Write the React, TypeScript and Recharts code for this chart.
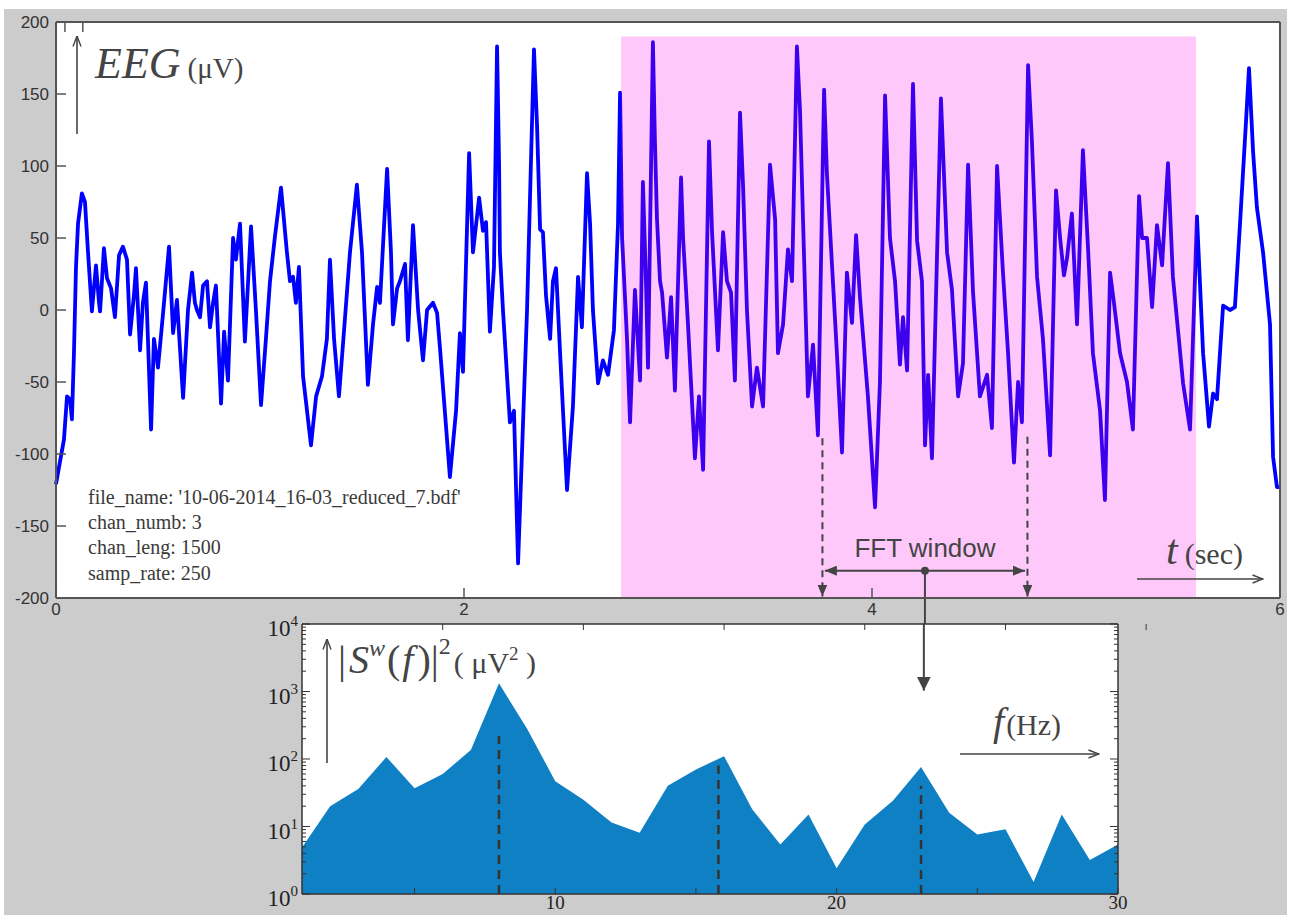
import React from "react";
import {
  Area,
  AreaChart,
  CartesianGrid,
  Line,
  LineChart,
  ReferenceArea,
  ReferenceDot,
  ReferenceLine,
  XAxis,
  YAxis,
} from "recharts";

// EEG trace (chan 3): time in s, amplitude in µV
const eegTime = [
  0.000, 0.020, 0.039, 0.054, 0.069, 0.078, 0.088, 0.098, 0.108, 0.127,
  0.142, 0.157, 0.176, 0.196, 0.211, 0.216, 0.235, 0.250, 0.270, 0.289,
  0.309, 0.328, 0.348, 0.363, 0.382, 0.392, 0.412, 0.426, 0.441, 0.466,
  0.480, 0.500, 0.525, 0.554, 0.574, 0.593, 0.623, 0.647, 0.667, 0.681,
  0.691, 0.706, 0.721, 0.740, 0.755, 0.770, 0.784, 0.809, 0.824, 0.843,
  0.868, 0.882, 0.902, 0.926, 0.956, 0.980, 1.005, 1.029, 1.049, 1.074,
  1.103, 1.132, 1.147, 1.162, 1.176, 1.191, 1.211, 1.250, 1.275, 1.304,
  1.328, 1.343, 1.363, 1.387, 1.417, 1.441, 1.475, 1.500, 1.529, 1.554,
  1.574, 1.588, 1.623, 1.642, 1.652, 1.672, 1.686, 1.711, 1.725, 1.750,
  1.775, 1.799, 1.819, 1.848, 1.868, 1.882, 1.931, 1.961, 1.980, 1.995,
  2.025, 2.044, 2.074, 2.093, 2.108, 2.127, 2.147, 2.162, 2.172, 2.176,
  2.191, 2.225, 2.245, 2.265, 2.289, 2.309, 2.324, 2.343, 2.358, 2.373,
  2.387, 2.402, 2.422, 2.436, 2.451, 2.471, 2.505, 2.534, 2.559, 2.578,
  2.603, 2.618, 2.632, 2.657, 2.681, 2.706, 2.735, 2.755, 2.765, 2.775,
  2.799, 2.814, 2.838, 2.863, 2.877, 2.892, 2.902, 2.926, 2.936, 2.946,
  2.961, 2.971, 2.995, 3.015, 3.034, 3.064, 3.074, 3.098, 3.132, 3.152,
  3.172, 3.201, 3.216, 3.245, 3.270, 3.289, 3.309, 3.328, 3.353, 3.368,
  3.387, 3.412, 3.436, 3.466, 3.500, 3.525, 3.539, 3.564, 3.588, 3.608,
  3.632, 3.647, 3.662, 3.686, 3.711, 3.735, 3.765, 3.779, 3.804, 3.828,
  3.853, 3.877, 3.902, 3.922, 3.941, 3.980, 4.015, 4.039, 4.064, 4.088,
  4.113, 4.137, 4.152, 4.172, 4.201, 4.221, 4.245, 4.260, 4.275, 4.294,
  4.338, 4.368, 4.392, 4.422, 4.446, 4.471, 4.495, 4.529, 4.564, 4.588,
  4.613, 4.642, 4.667, 4.696, 4.716, 4.735, 4.765, 4.784, 4.809, 4.838,
  4.873, 4.902, 4.922, 4.941, 4.956, 4.980, 5.005, 5.034, 5.059, 5.083,
  5.118, 5.142, 5.167, 5.186, 5.216, 5.250, 5.279, 5.309, 5.324, 5.348,
  5.373, 5.397, 5.422, 5.451, 5.475, 5.525, 5.559, 5.593, 5.623, 5.652,
  5.672, 5.691, 5.721, 5.755, 5.779, 5.804, 5.833, 5.848, 5.868, 5.887,
  5.917, 5.951, 5.966, 5.985, 6.000,
];
const eegValue = [
  -121, -105, -90, -60, -62, -76, -30, 30, 60, 81,
  75, 40, -1, 31, 5, -1, 43, 22, 15, -5,
  38, 44, 35, -17, 10, 29, -28, 5, 19, -83,
  -20, -40, -2, 44, -16, 7, -61, 0, 26, 5,
  0, -5, 17, 20, -12, 5, 17, -65, -15, -49,
  50, 35, 60, -22, 58, 0, -66, -20, 20, 52,
  85, 40, 20, 23, 5, 30, -46, -94, -60, -46,
  -20, 35, -20, -60, -5, 40, 87, 40, -52, -10,
  16, 5, 98, 40, -10, 15, 20, 32, -21, 59,
  0, -35, 0, 5, -2, -26, -116, -70, -16, -43,
  109, 40, 78, 55, 61, -15, 30, 183, 101, 40,
  0, -78, -70, -176, -80, 0, 80, 181, 128, 56,
  54, 10, -20, 20, 29, -30, -125, -67, 23, -12,
  95, 60, 0, -51, -35, -45, -14, 60, 151, 50,
  -20, -78, 14, -49, 89, 20, -40, 186, 117, 63,
  20, 12, -33, 9, -56, 92, 50, -10, -103, -60,
  -111, 117, 54, -28, 54, 20, 12, -49, 137, 86,
  0, -67, -40, -67, 101, 63, -30, -10, 42, 20,
  183, 139, 62, -60, -24, -87, 153, 95, 31, -30,
  -99, 26, -9, 52, 9, -60, -137, -50, 149, 50,
  20, -38, -5, -42, 157, 48, 20, -94, -45, -103,
  147, 40, 14, -60, -37, 101, 13, -60, -45, -82,
  100, 26, -30, -106, -50, -78, 170, 117, 23, -20,
  -101, 83, 50, 24, 36, 67, -10, 111, 43, -30,
  -70, -132, 26, 5, -30, -50, -83, 79, 50, 50,
  2, 59, 31, 102, 23, -51, -83, 65, -30, -81,
  -58, -62, 3, 0, 2, 60, 130, 168, 110, 71,
  40, -10, -102, -123, -123,
];

// highlighted stretch and the 1 s FFT window (seconds)
const bandStart = 2.77;
const bandEnd = 5.588;
const bandTop = 190;
const fftStart = 3.757;
const fftEnd = 4.762;
const fftArrowLevel = -181;

// |S^w(f)|^2 of the windowed segment, 1 Hz bins
const specFreq = [
  1, 2, 3, 4, 5, 6, 7, 8, 9, 10, 11, 12, 13, 14, 15,
  16, 17, 18, 19, 20, 21, 22, 23, 24, 25, 26, 27, 28, 29, 30,
];
const specPower = [
  4.9, 20, 36, 107, 37, 60, 136, 1320, 280, 47, 25, 11.5, 8.1, 40, 70,
  110, 18, 5.4, 15, 2.4, 10.7, 24, 76, 16, 7.6, 9.1, 1.5, 15, 3.2, 5.4,
];
const peakFreq = [8, 15.8, 23];
const peakMarkTop = [220, 80, 40];

const timeTicks = [0, 2, 4, 6];
const ampTicks = [-200, -150, -100, -50, 0, 50, 100, 150, 200];
const freqTicks = [5, 10, 15, 20, 25, 30];
const freqLabels = [10, 20, 30];
const decades = [1, 10, 100, 1000];
const powerTicks = [
  ...decades.flatMap((d) => [1, 2, 3, 4, 5, 6, 7, 8, 9].map((m) => m * d)),
  10000,
];

const eegData = eegTime.map((t, i) => ({ t, v: eegValue[i] }));
const specData = specFreq.map((f, i) => ({ f, p: specPower[i] }));

const SANS = "'Liberation Sans', Arial, sans-serif";
const SERIF = "'Liberation Serif', 'Times New Roman', serif";
const INK = "#444";
const FRAME = "#555";

const tMin = eegTime[0];
const tMax = eegTime[eegTime.length - 1];
const bandOffA = (bandStart - tMin) / (tMax - tMin);
const bandOffB = (bandEnd - tMin) / (tMax - tMin);

// ---- tick renderers (ticks point into the plot, matlab style)
const EegLeftTick = ({ x, y, payload }: any) => (
  <g>
    <line x1={x + 7} x2={x + 17} y1={y} y2={y} stroke={FRAME} strokeWidth={1.5} />
    <text x={x} y={y} dy="0.35em" textAnchor="end" fontSize={17} fontFamily={SANS} fill="#333">
      {payload.value}
    </text>
  </g>
);
const EegBottomTick = ({ x, y, payload }: any) => (
  <g>
    <line x1={x} x2={x} y1={y - 5} y2={y - 15} stroke={FRAME} strokeWidth={1.5} />
    <text x={x} y={y} dy="0.71em" textAnchor="middle" fontSize={17} fontFamily={SANS} fill="#333">
      {payload.value}
    </text>
  </g>
);
const EegRightTick = ({ x, y }: any) => (
  <line x1={x} x2={x - 10} y1={y} y2={y} stroke={FRAME} strokeWidth={1.5} />
);
const EegTopTick = ({ x, y }: any) => (
  <line x1={x} x2={x} y1={y} y2={y + 10} stroke={FRAME} strokeWidth={1.5} />
);

const isDecade = (v: number) => Math.abs(Math.log10(v) - Math.round(Math.log10(v))) < 1e-9;

const LogLeftTick = ({ x, y, payload }: any) => {
  const v = payload.value;
  const major = isDecade(v);
  const ax = x + 4;
  return (
    <g>
      <line x1={ax} x2={ax + (major ? 8 : 4)} y1={y} y2={y} stroke="#333" strokeWidth={1} />
      {major && (
        <text x={x} y={y + 12} textAnchor="end" fontFamily={SERIF} fill="#222">
          <tspan fontSize={23}>10</tspan>
          <tspan fontSize={15} dy={-10}>{Math.round(Math.log10(v))}</tspan>
        </text>
      )}
    </g>
  );
};
const LogRightTick = ({ x, y, payload }: any) => {
  const major = isDecade(payload.value);
  return <line x1={x} x2={x - (major ? 8 : 4)} y1={y} y2={y} stroke="#333" strokeWidth={1} />;
};
// bottom labels sit right at the lower edge of the figure
const FreqBottomTick = ({ x, y, payload }: any) => (
  <g>
    <line x1={x} x2={x} y1={y - 4} y2={y - 10} stroke="#333" strokeWidth={1} />
    {freqLabels.includes(payload.value) && (
      <text x={x} y={y + 11} textAnchor="middle" fontSize={19} fontFamily={SERIF} fill="#222">
        {payload.value}
      </text>
    )}
  </g>
);
const FreqTopTick = ({ x, y }: any) => (
  <line x1={x} x2={x} y1={y} y2={y + 6} stroke="#333" strokeWidth={1} />
);

const fftLine = (head: string, dash?: string) => (p: any) => (
  <line
    x1={p.x1}
    y1={p.y1}
    x2={p.x2}
    y2={p.y2}
    stroke={INK}
    strokeWidth={2}
    strokeDasharray={dash}
    markerEnd={head ? `url(#${head})` : undefined}
  />
);

const EegChart = () => (
  <LineChart width={1290} height={640} data={eegData} margin={{ top: 12, right: 0, bottom: 12, left: 6 }}>
    <defs>
      <linearGradient id="eegStroke" x1="0" y1="0" x2="1" y2="0">
        <stop offset={bandOffA} stopColor="#0000ff" />
        <stop offset={bandOffA} stopColor="#3c00ef" />
        <stop offset={bandOffB} stopColor="#3c00ef" />
        <stop offset={bandOffB} stopColor="#0000ff" />
      </linearGradient>
      <marker id="fftHead" viewBox="0 0 12 10" refX="12" refY="5" markerWidth="12" markerHeight="10"
        markerUnits="userSpaceOnUse" orient="auto">
        <path d="M0,0 L12,5 L0,10 z" fill={INK} />
      </marker>
    </defs>
    <CartesianGrid fill="#ffffff" horizontal={false} vertical={false} />
    <ReferenceArea x1={bandStart} x2={bandEnd} y1={-200} y2={bandTop} fill="#ffc8fa" fillOpacity={1} stroke="none" />
    <XAxis
      dataKey="t"
      type="number"
      domain={[0, 6]}
      ticks={timeTicks}
      height={30}
      tickSize={0}
      tickMargin={5}
      tickLine={false}
      axisLine={{ stroke: FRAME, strokeWidth: 2 }}
      tick={(p: any) => <EegBottomTick {...p} />}
    />
    <XAxis
      xAxisId="top"
      orientation="top"
      type="number"
      domain={[0, 6]}
      ticks={timeTicks}
      height={10}
      tickSize={0}
      tickMargin={0}
      tickLine={false}
      axisLine={{ stroke: FRAME, strokeWidth: 2 }}
      tick={(p: any) => <EegTopTick {...p} />}
    />
    <YAxis
      type="number"
      domain={[-200, 200]}
      ticks={ampTicks}
      width={50}
      tickSize={0}
      tickMargin={7}
      tickLine={false}
      axisLine={{ stroke: FRAME, strokeWidth: 2 }}
      tick={(p: any) => <EegLeftTick {...p} />}
    />
    <YAxis
      yAxisId="right"
      orientation="right"
      type="number"
      domain={[-200, 200]}
      ticks={ampTicks}
      width={10}
      tickSize={0}
      tickMargin={0}
      tickLine={false}
      axisLine={{ stroke: FRAME, strokeWidth: 2 }}
      tick={(p: any) => <EegRightTick {...p} />}
    />
    <Line
      type="linear"
      dataKey="v"
      stroke="url(#eegStroke)"
      strokeWidth={3.8}
      strokeLinejoin="round"
      dot={false}
      activeDot={false}
      isAnimationActive={false}
    />
    <ReferenceLine
      segment={[{ x: fftStart, y: -89 }, { x: fftStart, y: -199 }]}
      ifOverflow="visible"
      shape={fftLine("fftHead", "7 5")}
    />
    <ReferenceLine
      segment={[{ x: fftEnd, y: -88 }, { x: fftEnd, y: -199 }]}
      ifOverflow="visible"
      shape={fftLine("fftHead", "7 5")}
    />
    <ReferenceLine
      segment={[{ x: (fftStart + fftEnd) / 2, y: fftArrowLevel }, { x: fftStart + 0.012, y: fftArrowLevel }]}
      ifOverflow="visible"
      shape={fftLine("fftHead")}
    />
    <ReferenceLine
      segment={[{ x: (fftStart + fftEnd) / 2, y: fftArrowLevel }, { x: fftEnd - 0.012, y: fftArrowLevel }]}
      ifOverflow="visible"
      shape={fftLine("fftHead")}
    />
    <ReferenceLine
      segment={[{ x: (fftStart + fftEnd) / 2, y: fftArrowLevel }, { x: (fftStart + fftEnd) / 2, y: -224 }]}
      ifOverflow="visible"
      shape={fftLine("")}
    />
    <ReferenceDot x={(fftStart + fftEnd) / 2} y={fftArrowLevel} r={4} fill={INK} stroke="none" ifOverflow="visible" />
  </LineChart>
);

const SpectrumChart = () => (
  <AreaChart width={920} height={315} data={specData} margin={{ top: 14, right: 32, bottom: 0, left: 6 }}>
    <defs>
      <marker id="specHead" viewBox="0 0 14 14" refX="14" refY="7" markerWidth="14" markerHeight="14"
        markerUnits="userSpaceOnUse" orient="auto">
        <path d="M0,0 L14,7 L0,14 z" fill={INK} />
      </marker>
    </defs>
    <CartesianGrid fill="#ffffff" horizontal={false} vertical={false} />
    <XAxis
      dataKey="f"
      type="number"
      domain={[1, 30]}
      ticks={freqTicks}
      height={21}
      tickSize={0}
      tickMargin={4}
      tickLine={false}
      axisLine={{ stroke: "#333", strokeWidth: 1.5 }}
      tick={(p: any) => <FreqBottomTick {...p} />}
    />
    <XAxis
      xAxisId="top"
      orientation="top"
      type="number"
      domain={[1, 30]}
      ticks={freqTicks}
      height={10}
      tickSize={0}
      tickMargin={0}
      tickLine={false}
      axisLine={{ stroke: "#333", strokeWidth: 1.5 }}
      tick={(p: any) => <FreqTopTick {...p} />}
    />
    <YAxis
      type="number"
      scale="log"
      domain={[1, 10000]}
      ticks={powerTicks}
      interval={0}
      width={56}
      tickSize={0}
      tickMargin={4}
      tickLine={false}
      allowDataOverflow
      axisLine={{ stroke: "#333", strokeWidth: 1.5 }}
      tick={(p: any) => <LogLeftTick {...p} />}
    />
    <YAxis
      yAxisId="right"
      orientation="right"
      type="number"
      scale="log"
      domain={[1, 10000]}
      ticks={powerTicks}
      interval={0}
      width={10}
      tickSize={0}
      tickMargin={0}
      tickLine={false}
      allowDataOverflow
      axisLine={{ stroke: "#333", strokeWidth: 1.5 }}
      tick={(p: any) => <LogRightTick {...p} />}
    />
    <Area
      type="linear"
      dataKey="p"
      baseValue={1}
      fill="#1080c4"
      fillOpacity={1}
      stroke="none"
      dot={false}
      activeDot={false}
      isAnimationActive={false}
    />
    {peakFreq.map((f, i) => (
      <ReferenceLine
        key={f}
        segment={[{ x: f, y: 1 }, { x: f, y: peakMarkTop[i] }]}
        ifOverflow="visible"
        stroke="#333"
        strokeWidth={2.5}
        strokeDasharray="9 6"
      />
    ))}
    <ReferenceLine
      segment={[{ x: 23.1, y: 10000 }, { x: 23.1, y: 1030 }]}
      ifOverflow="visible"
      shape={(p: any) => (
        <line x1={p.x1} y1={p.y1} x2={p.x2} y2={p.y2} stroke={INK} strokeWidth={2} markerEnd="url(#specHead)" />
      )}
    />
  </AreaChart>
);

export default function App() {
  return (
    <div style={{ position: "absolute", left: 0, top: 0, width: 1290, height: 915, background: "#fff", overflow: "hidden" }}>
      <div style={{ position: "absolute", left: 4, top: 9, width: 1283, height: 906, background: "#cccccc" }} />
      <div style={{ position: "absolute", left: 0, top: 0 }}>
        <EegChart />
      </div>
      <div style={{ position: "absolute", left: 240, top: 600 }}>
        <SpectrumChart />
      </div>
      <svg width={1290} height={915} style={{ position: "absolute", left: 0, top: 0, pointerEvents: "none" }}>
        <defs>
          <marker id="openHead" viewBox="0 0 12 10" refX="11.5" refY="5" markerWidth="12" markerHeight="10"
            markerUnits="userSpaceOnUse" orient="auto">
            <path d="M1,1 L11.5,5 L1,9" fill="none" stroke={INK} strokeWidth={1.4} />
          </marker>
        </defs>
        <g stroke={INK} strokeWidth={1.6} fill="none">
          <line x1={77} y1={134} x2={77} y2={36} markerEnd="url(#openHead)" />
          <line x1={1137} y1={579} x2={1263} y2={579} markerEnd="url(#openHead)" />
          <line x1={327} y1={763} x2={327} y2={639} markerEnd="url(#openHead)" />
          <line x1={960} y1={754} x2={1099} y2={754} markerEnd="url(#openHead)" />
        </g>
        <g fontFamily={SERIF} fill={INK}>
          <text x={95} y={78}>
            <tspan fontStyle="italic" fontSize={44}>EEG</tspan>
            <tspan fontSize={29} dx={7}>(μV)</tspan>
          </text>
          <text x={1166} y={564}>
            <tspan fontStyle="italic" fontSize={42}>t</tspan>
            <tspan fontSize={30} dx={7}>(sec)</tspan>
          </text>
          <text x={338} y={673}>
            <tspan fontSize={40}>|</tspan>
            <tspan fontSize={40} fontStyle="italic" dx={3}>S</tspan>
            <tspan fontSize={24} fontStyle="italic" dy={-17}>w</tspan>
            <tspan fontSize={40} dy={17} dx={2}>(</tspan>
            <tspan fontSize={40} fontStyle="italic" dx={2}>f</tspan>
            <tspan fontSize={40} dx={4}>)|</tspan>
            <tspan fontSize={24} dy={-19}>2</tspan>
            <tspan fontSize={30} dy={19} dx={3}>( μV</tspan>
            <tspan fontSize={19} dy={-13}>2</tspan>
            <tspan fontSize={30} dy={13}> )</tspan>
          </text>
          <text x={993} y={735}>
            <tspan fontStyle="italic" fontSize={40}>f</tspan>
            <tspan fontSize={30} dx={2}>(Hz)</tspan>
          </text>
        </g>
        <g fontFamily={SERIF} fill="#3a3a3a" fontSize={20}>
          <text x={88} y={504}>file_name: '10-06-2014_16-03_reduced_7.bdf'</text>
          <text x={88} y={529}>chan_numb: 3</text>
          <text x={88} y={554}>chan_leng: 1500</text>
          <text x={88} y={580}>samp_rate: 250</text>
        </g>
        <text x={925} y={557} textAnchor="middle" fontFamily={SANS} fontSize={26} fill={INK}>
          FFT window
        </text>
      </svg>
    </div>
  );
}
